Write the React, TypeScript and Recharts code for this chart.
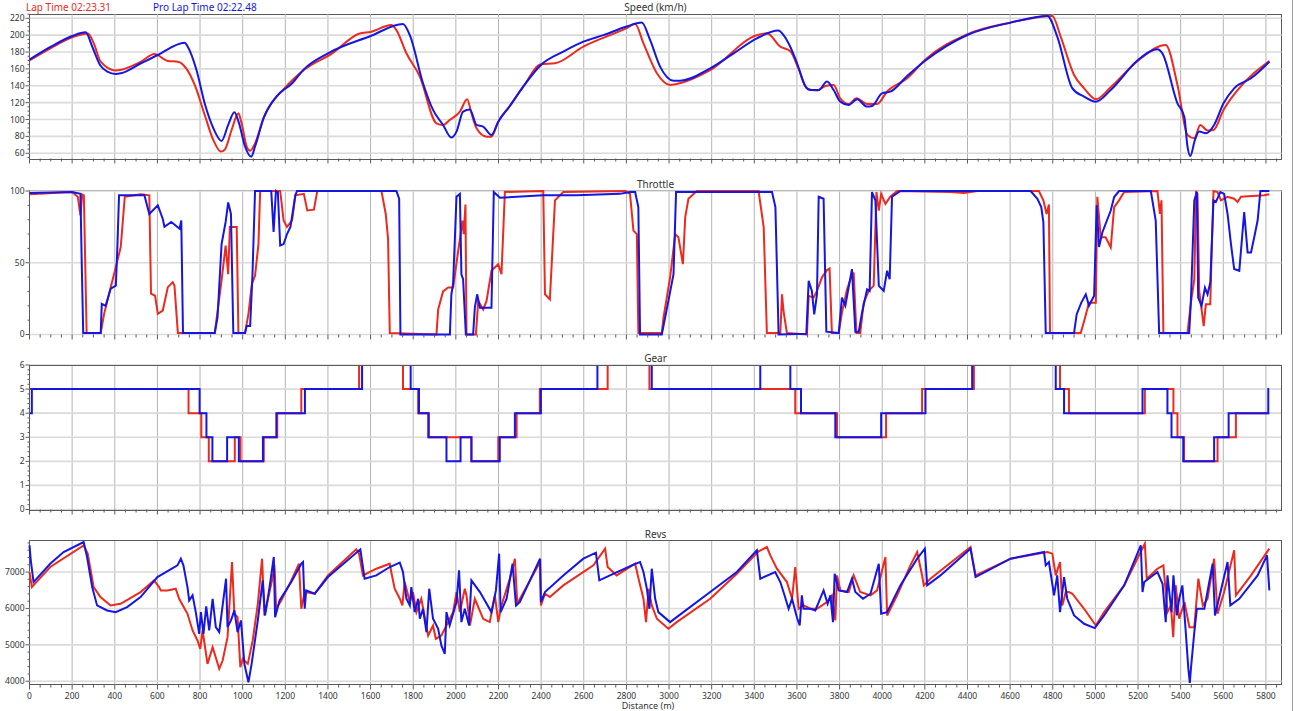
import { CartesianGrid, Line, LineChart, XAxis, YAxis } from "recharts";

type Pair = [number, number];

const LAP_COLOR = "#ec2a1d";
const PRO_COLOR = "#1515e4";
const BORDER = "#5a5a5a";
const TEXT = "#333";

const lapLabel = "Lap Time 02:23.31";
const proLabel = "Pro Lap Time 02:22.48";

const distanceTicks = [
  0, 200, 400, 600, 800, 1000, 1200, 1400, 1600, 1800, 2000, 2200, 2400, 2600, 2800, 3000,
  3200, 3400, 3600, 3800, 4000, 4200, 4400, 4600, 4800, 5000, 5200, 5400, 5600, 5800
];
const speedTicks = [60, 80, 100, 120, 140, 160, 180, 200, 220];
const throttleTicks = [0, 50, 100];
const gearTicks = [0, 1, 2, 3, 4, 5, 6];
const revsTicks = [4000, 5000, 6000, 7000];

const speedLap: Pair[] = [
  [0, 170], [98, 184.4], [200, 197.5], [274, 202], [302, 190], [334, 168.6], [405, 158],
  [523, 168.5], [586, 177.7], [649, 169.4], [696, 168.6], [735, 160.7], [775, 141], [822, 105.4],
  [862, 75.8], [898, 62], [917, 64.7], [948, 87.6], [980, 107.4], [995, 95.5], [1019, 68],
  [1035, 63], [1058, 71.8], [1098, 101.6], [1200, 138], [1287, 158.7], [1420, 178.5],
  [1549, 202], [1600, 203.8], [1697, 212], [1721, 206], [1768, 178.5], [1831, 151], [1909, 95.5],
  [1940, 93.6], [1971, 99.5], [2019, 109.4], [2053, 124], [2073, 107.4], [2097, 89.6],
  [2144, 79.7], [2167, 79.7], [2199, 97.5], [2253, 116], [2316, 139], [2399, 165.5],
  [2465, 166.7], [2598, 186.4], [2798, 208], [2841, 213.3], [2880, 190.3], [2943, 154.8],
  [3005, 141], [3036, 142.2], [3193, 158.7], [3412, 200], [3459, 202.2], [3522, 186.4],
  [3569, 181], [3608, 160], [3647, 137], [3694, 134.3], [3733, 139.8], [3772, 141], [3803, 125.2],
  [3843, 118.5], [3879, 125.2], [3929, 118.5], [3976, 118.5], [4022, 133], [4117, 148.9],
  [4200, 170.6], [4399, 201], [4602, 214.9], [4798, 222.8], [4837, 198.3], [4900, 152.8],
  [4947, 137], [5002, 124], [5072, 138.2], [5200, 169.8], [5330, 188.4], [5385, 141],
  [5432, 81.7], [5464, 77.8], [5492, 93.6], [5526, 86.9], [5554, 87.6], [5601, 111.4],
  [5667, 135], [5816, 169.4]
];

const speedPro: Pair[] = [
  [0, 171], [98, 186], [200, 199], [263, 203.4], [295, 186], [331, 164.7], [365, 156.8],
  [405, 154], [428, 154.8], [523, 166.7], [602, 176.5], [728, 191], [743, 186], [783, 159],
  [822, 119], [862, 90], [901, 74.6], [932, 93.6], [961, 108.6], [983, 95.5], [1011, 68],
  [1040, 56], [1058, 68], [1098, 101.6], [1161, 128], [1232, 143], [1287, 159.5], [1400, 178.5],
  [1600, 199], [1752, 213.3], [1784, 200], [1846, 143], [1893, 111.4], [1940, 93.6],
  [1979, 78.6], [2003, 85.7], [2034, 109.4], [2066, 112], [2097, 93.6], [2128, 91.6],
  [2167, 81.7], [2199, 97.5], [2253, 116], [2316, 139], [2399, 164.7], [2504, 180.5],
  [2598, 192.3], [2692, 200], [2798, 210], [2872, 214.9], [2911, 194.3], [2958, 162.7],
  [3021, 146], [3052, 146], [3193, 160.7], [3303, 178.5], [3412, 196.3], [3513, 205.4],
  [3537, 200], [3569, 186], [3600, 167], [3639, 139.8], [3663, 135], [3702, 135], [3741, 145],
  [3772, 135], [3803, 121.2], [3843, 117.3], [3882, 124], [3929, 115.3], [3952, 116],
  [3999, 131], [4038, 133], [4117, 151.6], [4200, 169.4], [4399, 200.2], [4602, 214.9],
  [4775, 222.8], [4821, 198.3], [4892, 137], [4947, 127.2], [5002, 121.2], [5072, 135],
  [5200, 170.6], [5291, 183.2], [5314, 178.5], [5385, 119.2], [5417, 103.4], [5432, 68],
  [5445, 56.8], [5467, 75.8], [5487, 85.7], [5518, 83.7], [5557, 93.6], [5601, 119.2],
  [5651, 137], [5730, 148.9], [5816, 168.6]
];

const throttleLap: Pair[] = [
  [0, 97.7], [200, 99.3], [227, 95.8], [239, 83], [247, 97.7], [255, 97], [268, 1], [334, 1],
  [350, 14.4], [381, 33], [405, 47], [428, 61], [447, 96], [523, 97.7], [562, 97], [570, 28.4],
  [589, 27], [602, 14.4], [625, 16.7], [649, 33], [672, 36.5], [680, 34], [696, 1], [869, 1],
  [901, 37.7], [920, 62], [932, 42], [940, 75], [972, 75], [980, 1], [1011, 1], [1027, 14.4],
  [1043, 35], [1058, 41], [1074, 63], [1082, 100], [1176, 100], [1192, 79.5], [1208, 75],
  [1232, 79.5], [1247, 97], [1287, 98], [1303, 86.5], [1334, 87], [1350, 100], [1651, 100],
  [1671, 84], [1682, 66.6], [1690, 1], [1909, 0], [1917, 17.5], [1940, 30], [1964, 32.7],
  [1987, 32.7], [2031, 79.4], [2037, 70], [2045, 90.6], [2050, 0], [2094, 0], [2105, 23.4],
  [2128, 17.5], [2144, 23.4], [2167, 44.4], [2199, 49], [2214, 42], [2230, 99.3], [2410, 100],
  [2418, 28], [2441, 24.5], [2465, 93.5], [2504, 99.3], [2794, 100], [2817, 98], [2833, 72.4],
  [2849, 70], [2856, 1], [2966, 1], [2974, 11.7], [3005, 39.7], [3029, 70], [3044, 67.8],
  [3065, 49], [3076, 81.8], [3091, 94.6], [3130, 100], [3420, 100], [3444, 74.8], [3459, 1],
  [3522, 1], [3530, 28], [3537, 16.4], [3553, 1], [3647, 0], [3655, 26.9], [3678, 25.7],
  [3694, 30.4], [3717, 39.7], [3741, 44.9], [3753, 46], [3764, 1], [3796, 1], [3811, 15.2],
  [3835, 31.5], [3851, 38.5], [3866, 43.2], [3879, 1], [3897, 1], [3913, 22.2], [3937, 30.4],
  [3960, 34], [3973, 99.3], [3984, 86.4], [3995, 98], [4015, 91], [4038, 96], [4070, 100],
  [4320, 99.3], [4383, 98.6], [4446, 100], [4735, 100], [4756, 93.5], [4771, 84], [4782, 90.6],
  [4787, 1], [4931, 1], [4947, 9.3], [4970, 22.2], [5002, 22.2], [5009, 96], [5025, 67.8],
  [5048, 67.8], [5072, 60.7], [5088, 88.8], [5111, 93.5], [5135, 99.3], [5291, 100],
  [5303, 84], [5310, 93.5], [5319, 1], [5432, 1], [5448, 22.2], [5464, 38.5], [5472, 100],
  [5479, 98], [5487, 30.4], [5508, 5.8], [5518, 21], [5539, 21], [5545, 56], [5554, 100],
  [5573, 99.3], [5589, 93.5], [5620, 96], [5651, 94.6], [5667, 92.3], [5683, 96], [5792, 97],
  [5816, 97.7]
];

const throttlePro: Pair[] = [
  [0, 98.6], [200, 99.3], [239, 98], [245, 50], [252, 1], [334, 1], [339, 21.4], [357, 20],
  [381, 32], [405, 34], [412, 60], [420, 97], [539, 97], [562, 84], [602, 90], [625, 80.7],
  [633, 75], [665, 78.4], [704, 73.7], [712, 79.5], [720, 1], [869, 1], [882, 12], [901, 63],
  [920, 78.4], [932, 92], [945, 84], [956, 1], [1011, 1], [1019, 6], [1035, 6], [1046, 42],
  [1058, 100], [1134, 100], [1145, 71.4], [1156, 100], [1165, 99], [1176, 62], [1192, 63],
  [1208, 70], [1224, 75], [1247, 97], [1255, 100], [1721, 100], [1734, 94.6], [1740, 0],
  [1972, 0], [1979, 28], [1987, 35], [2003, 96], [2019, 98], [2026, 42], [2034, 38.5], [2047, 0],
  [2081, 0], [2089, 18.7], [2100, 28], [2113, 18.7], [2167, 18.7], [2178, 99.3], [2207, 95.3],
  [2410, 97], [2567, 97], [2770, 98], [2817, 99.3], [2841, 99.3], [2856, 88.8], [2864, 0],
  [2966, 0], [2997, 23.4], [3021, 42], [3033, 99.3], [3483, 99.3], [3499, 88.8], [3514, 0],
  [3644, 0.5], [3655, 37.4], [3670, 30.4], [3681, 14], [3694, 28], [3702, 96], [3725, 94.6],
  [3738, 2], [3796, 1], [3811, 25.7], [3827, 20], [3858, 45.6], [3874, 2], [3890, 2], [3905, 15],
  [3929, 31.5], [3941, 30.4], [3952, 99.3], [3968, 93.5], [3984, 34], [4007, 30.4], [4023, 44.4],
  [4035, 38.5], [4046, 96], [4085, 100], [4696, 100], [4728, 94.6], [4746, 88.8], [4756, 78.3],
  [4767, 1], [4900, 1], [4912, 14], [4934, 22.2], [4955, 28], [4970, 20], [4994, 27], [5006, 90],
  [5017, 61], [5033, 71.3], [5072, 86.4], [5088, 95.8], [5111, 100], [5260, 100], [5283, 79.4],
  [5299, 1], [5440, 1], [5448, 23.4], [5464, 93.5], [5476, 99.3], [5482, 25.7], [5498, 20],
  [5514, 32.7], [5526, 28], [5539, 36.2], [5554, 93.5], [5565, 92.3], [5586, 99.3], [5604, 98],
  [5620, 84], [5636, 63], [5651, 45.6], [5675, 44.4], [5698, 85.3], [5714, 57.2], [5730, 57.2],
  [5745, 67.8], [5761, 79.4], [5774, 100], [5816, 100]
];

// gear change points (held until the next point)
const gearLap: Pair[] = [
  [0, 5], [746, 4], [806, 3], [841, 2], [963, 3], [990, 2], [1099, 3], [1162, 4], [1275, 5],
  [1546, 6], [1752, 5], [1823, 4], [1870, 3], [2073, 2], [2199, 3], [2285, 4], [2394, 5],
  [2712, 6], [2908, 5], [3592, 4], [3788, 3], [4018, 4], [4187, 5], [4430, 6], [4834, 5],
  [4876, 4], [5232, 5], [5366, 4], [5385, 3], [5416, 2], [5573, 3], [5659, 4], [5815, 4]
];

const gearPro: Pair[] = [
  [0, 4], [11, 5], [798, 4], [830, 3], [858, 2], [927, 3], [982, 2], [1095, 3], [1158, 4],
  [1292, 5], [1560, 6], [1788, 5], [1827, 4], [1873, 3], [1956, 2], [2022, 3], [2073, 2],
  [2206, 3], [2277, 4], [2399, 5], [2664, 6], [2919, 5], [3428, 6], [3569, 5], [3619, 4],
  [3780, 3], [3995, 4], [4203, 5], [4422, 6], [4814, 5], [4853, 4], [5221, 5], [5338, 4],
  [5357, 3], [5412, 2], [5557, 3], [5625, 4], [5811, 5], [5815, 5]
];

const revsLap: Pair[] = [
  [0, 7000], [11, 6587], [97, 7138], [254, 7734], [273, 7505], [301, 6587], [333, 6312],
  [380, 6083], [427, 6128], [521, 6450], [584, 6771], [608, 6587], [616, 6495], [647, 6495],
  [686, 6541], [702, 6266], [741, 5853], [765, 5394], [788, 5119], [801, 4890], [812, 5394],
  [835, 4477], [859, 4936], [890, 4339], [906, 4569], [929, 5211], [950, 7275], [961, 5853],
  [976, 5761], [989, 4385], [1000, 4615], [1024, 4477], [1047, 5119], [1071, 6128], [1091, 7367],
  [1102, 5807], [1141, 6862], [1149, 7183], [1157, 5991], [1181, 6220], [1228, 6771],
  [1264, 7229], [1275, 5991], [1291, 6450], [1338, 6404], [1400, 6908], [1533, 7624],
  [1546, 7505], [1564, 6908], [1627, 7092], [1690, 7229], [1697, 7000], [1713, 6541],
  [1737, 6266], [1749, 6083], [1760, 6725], [1784, 6174], [1799, 6450], [1815, 5899],
  [1838, 6266], [1870, 5257], [1893, 5532], [1906, 5165], [1932, 5257], [1956, 5532],
  [1987, 5899], [2003, 6450], [2019, 5899], [2042, 6541], [2050, 6358], [2066, 5532],
  [2089, 6266], [2128, 5716], [2159, 5624], [2183, 6358], [2199, 5624], [2214, 6083],
  [2253, 6817], [2277, 7367], [2288, 6128], [2395, 7275], [2399, 6083], [2418, 6404],
  [2441, 6312], [2504, 6633], [2645, 7183], [2700, 7642], [2712, 7138], [2754, 6908],
  [2841, 7229], [2857, 6817], [2880, 6266], [2892, 5624], [2904, 6541], [2919, 6083],
  [2943, 5716], [2997, 5440], [3036, 5624], [3193, 6266], [3318, 6954], [3420, 7569],
  [3459, 7688], [3475, 7459], [3506, 7092], [3553, 6725], [3577, 6266], [3592, 7138],
  [3608, 5991], [3631, 6083], [3663, 5991], [3694, 5991], [3741, 6174], [3764, 6358],
  [3780, 5670], [3788, 6908], [3804, 6495], [3843, 6450], [3866, 6908], [3897, 6450],
  [3945, 6358], [3976, 6495], [4015, 7413], [4023, 5807], [4070, 6358], [4132, 7183],
  [4164, 7550], [4187, 6908], [4195, 6633], [4226, 6817], [4414, 7688], [4438, 6908],
  [4602, 7367], [4775, 7550], [4798, 7505], [4814, 6908], [4834, 7275], [4845, 6083],
  [4861, 6450], [4876, 6450], [4892, 6404], [4947, 5991], [5002, 5532], [5041, 5899],
  [5135, 6633], [5232, 7780], [5241, 6817], [5291, 7092], [5319, 7183], [5338, 5899],
  [5354, 6083], [5365, 5211], [5377, 6633], [5393, 5716], [5418, 6174], [5441, 5486],
  [5464, 5486], [5483, 6817], [5504, 6083], [5526, 6266], [5557, 7367], [5573, 5853],
  [5604, 6450], [5651, 7596], [5659, 6358], [5730, 6908], [5816, 7642]
];

const revsPro: Pair[] = [
  [0, 7734], [6, 7321], [19, 6725], [97, 7229], [160, 7550], [254, 7826], [270, 7413],
  [294, 6587], [317, 6083], [364, 5945], [404, 5899], [458, 6037], [521, 6312], [600, 6862],
  [694, 7183], [710, 7367], [722, 7183], [741, 6587], [749, 6220], [765, 6358], [780, 5899],
  [796, 5303], [804, 5899], [816, 5303], [829, 6055], [843, 5394], [859, 6266], [874, 5486],
  [890, 5349], [906, 6083], [922, 6817], [929, 5486], [945, 5670], [961, 5945], [976, 5349],
  [992, 5670], [1008, 4477], [1027, 3972], [1042, 4477], [1071, 5670], [1094, 6771],
  [1105, 5807], [1126, 6587], [1146, 7413], [1152, 5761], [1173, 6220], [1228, 6725],
  [1275, 7229], [1283, 7275], [1291, 5991], [1298, 6495], [1338, 6404], [1400, 6862],
  [1552, 7624], [1572, 6817], [1627, 6908], [1690, 7138], [1737, 7257], [1752, 7000],
  [1768, 6266], [1784, 6083], [1791, 6587], [1807, 5899], [1823, 6266], [1831, 5716],
  [1846, 5991], [1862, 5349], [1875, 6541], [1893, 5716], [1917, 5440], [1932, 4982],
  [1948, 4752], [1956, 5899], [1971, 5532], [2003, 6174], [2015, 7046], [2026, 5624],
  [2042, 5991], [2062, 5532], [2073, 6771], [2113, 6450], [2167, 5899], [2188, 6495],
  [2203, 7505], [2210, 5899], [2238, 6266], [2266, 7229], [2282, 6083], [2300, 6174],
  [2395, 7367], [2399, 6174], [2418, 6450], [2504, 6908], [2598, 7367], [2657, 7532],
  [2673, 6771], [2723, 6908], [2833, 7202], [2864, 7275], [2880, 7000], [2896, 6541],
  [2908, 5991], [2919, 7092], [2935, 6266], [2950, 5899], [3005, 5624], [3036, 5761],
  [3193, 6450], [3318, 7000], [3412, 7596], [3428, 6817], [3498, 7000], [3522, 6725],
  [3537, 6450], [3561, 5991], [3577, 6266], [3600, 5750], [3613, 5532], [3623, 6358],
  [3631, 5991], [3663, 5991], [3686, 5945], [3725, 6495], [3744, 6128], [3757, 6358],
  [3769, 5624], [3777, 6954], [3796, 6495], [3835, 6450], [3858, 6817], [3874, 6450],
  [3910, 6266], [3945, 6404], [3984, 7229], [3995, 5853], [4023, 5899], [4085, 6633],
  [4164, 7367], [4200, 7642], [4211, 6633], [4273, 6908], [4414, 7642], [4438, 6862],
  [4602, 7367], [4759, 7550], [4767, 7183], [4782, 7275], [4806, 6358], [4821, 6908],
  [4834, 5899], [4853, 6862], [4868, 6266], [4900, 5807], [4947, 5578], [4997, 5459],
  [5041, 5807], [5135, 6633], [5213, 7734], [5221, 6450], [5229, 6725], [5291, 7000],
  [5315, 6679], [5330, 5624], [5338, 6908], [5357, 5899], [5366, 6908], [5382, 5807],
  [5393, 6266], [5408, 6633], [5424, 5349], [5436, 4339], [5443, 3954], [5448, 4339],
  [5464, 5349], [5476, 5991], [5511, 5991], [5550, 7229], [5561, 5807], [5620, 7275],
  [5633, 6083], [5675, 6266], [5761, 6908], [5805, 7459], [5816, 6495]
];

const W = 1295;
const Y_AXIS_W = 29.5;
const RIGHT_GAP = 13.5;
const PLOT_W = W - Y_AXIS_W - RIGHT_GAP;
const X_DOMAIN: [number, number] = [0, 5873];
const TOP_PAD = 8;
const FONT = "'Noto Sans', 'Open Sans', sans-serif";

const steps = (from: number, to: number, step: number) => {
  const out: number[] = [];
  for (let v = from; v <= to + 1e-9; v += step) out.push(Math.round(v * 100) / 100);
  return out;
};

const xMinorTicks = steps(0, 5850, 50);

const toPoints = (pairs: Pair[]) => pairs.map(([d, v]) => ({ d, v }));

function XTick(props: any) {
  const { x, y, payload, showLabel } = props;
  const major = distanceTicks.includes(payload.value);
  return (
    <g>
      <line x1={x} x2={x} y1={y} y2={y + (major ? 5 : 3)} stroke={BORDER} />
      {showLabel && major && (
        <text x={x} y={y + 14.5} textAnchor="middle" fontSize={8.5} fill={TEXT} fontFamily={FONT}>
          {payload.value}
        </text>
      )}
    </g>
  );
}

function YTick(props: any) {
  const { x, y, payload, majors } = props;
  const major = majors.includes(payload.value);
  return (
    <g>
      <line x1={x - (major ? 4 : 2)} x2={x} y1={y} y2={y} stroke={BORDER} />
      {major && (
        <text x={x - 5} y={y} dy="0.35em" textAnchor="end" fontSize={8.5} fill={TEXT} fontFamily={FONT}>
          {payload.value}
        </text>
      )}
    </g>
  );
}

interface PanelProps {
  title: string;
  top: number;
  plotHeight: number;
  domain: [number, number];
  majors: number[];
  minors: number[];
  lap: Pair[];
  pro: Pair[];
  curve: "monotone" | "linear" | "stepAfter";
  showLabels?: boolean;
  clipTop?: boolean;
}

function Panel({
  title, top, plotHeight, domain, majors, minors, lap, pro, curve,
  showLabels = false, clipTop = false
}: PanelProps) {
  const axisH = showLabels ? 24 : 10;
  // plot frame; drawn under the lines except where values sit on the edge (gear)
  const frame = (
    <div
      style={{
        position: "absolute",
        left: Math.floor(Y_AXIS_W),
        top: Math.floor(top),
        width: Math.round(PLOT_W) + 1,
        height: Math.round(plotHeight) + 1,
        boxSizing: "border-box",
        border: `1px solid ${BORDER}`
      }}
    />
  );
  return (
    <>
      <div
        style={{
          position: "absolute",
          left: Y_AXIS_W,
          width: PLOT_W,
          top: top - 14,
          lineHeight: "14px",
          fontSize: 10,
          textAlign: "center",
          color: TEXT
        }}
      >
        {title}
      </div>
      {!clipTop && frame}
      <div style={{ position: "absolute", left: 0, top: top - TOP_PAD }}>
        <LineChart
          width={W}
          height={TOP_PAD + plotHeight + axisH}
          margin={{ top: TOP_PAD, right: RIGHT_GAP, bottom: 0, left: 0 }}
        >
          <CartesianGrid
            horizontal={false}
            verticalValues={distanceTicks.slice(1)}
            stroke="#b4b4b4"
            strokeWidth={1}
          />
          <CartesianGrid
            vertical={false}
            horizontalValues={majors}
            stroke="#dadada"
            strokeWidth={1.6}
          />
          <XAxis
            type="number"
            dataKey="d"
            domain={X_DOMAIN}
            ticks={xMinorTicks}
            interval={0}
            tickSize={0}
            tickMargin={0}
            tickLine={false}
            height={axisH}
            axisLine={false}
            tick={(p: any) => <XTick {...p} showLabel={showLabels} />}
          />
          <YAxis
            type="number"
            domain={domain}
            allowDataOverflow={clipTop}
            ticks={minors}
            interval={0}
            width={Y_AXIS_W}
            tickSize={0}
            tickMargin={0}
            tickLine={false}
            axisLine={false}
            tick={(p: any) => <YTick {...p} majors={majors} />}
          />
          <Line
            data={toPoints(lap)}
            dataKey="v"
            type={curve}
            stroke={LAP_COLOR}
            strokeWidth={2}
            dot={false}
            activeDot={false}
            isAnimationActive={false}
          />
          <Line
            data={toPoints(pro)}
            dataKey="v"
            type={curve}
            stroke={PRO_COLOR}
            strokeWidth={2}
            dot={false}
            activeDot={false}
            isAnimationActive={false}
          />
        </LineChart>
      </div>
      {clipTop && frame}
    </>
  );
}

export default function App() {
  return (
    <div
      style={{
        position: "absolute",
        left: 0,
        top: 0,
        width: W,
        height: 711,
        overflow: "hidden",
        background: "#fff",
        fontFamily: FONT
      }}
    >
      <div style={{ position: "absolute", left: 26, top: 0, fontSize: 10, lineHeight: "14px", color: LAP_COLOR }}>
        {lapLabel}
      </div>
      <div style={{ position: "absolute", left: 153, top: 0, fontSize: 10, lineHeight: "14px", color: PRO_COLOR }}>
        {proLabel}
      </div>

      <Panel
        title="Speed (km/h)"
        top={14}
        plotHeight={144.5}
        domain={[53.8, 225.1]}
        majors={speedTicks}
        minors={steps(55, 225, 5)}
        lap={speedLap}
        pro={speedPro}
        curve="monotone"
      />
      <Panel
        title="Throttle"
        top={190.5}
        plotHeight={143.5}
        domain={[0, 100]}
        majors={throttleTicks}
        minors={steps(0, 100, 10)}
        lap={throttleLap}
        pro={throttlePro}
        curve="linear"
      />
      <Panel
        title="Gear"
        top={365}
        plotHeight={144.5}
        domain={[0, 6]}
        majors={gearTicks}
        minors={steps(0, 6, 0.2)}
        lap={gearLap}
        pro={gearPro}
        curve="stepAfter"
        clipTop
      />
      <Panel
        title="Revs"
        top={540.5}
        plotHeight={143.5}
        domain={[3910, 7853]}
        majors={revsTicks}
        minors={steps(4000, 7800, 200)}
        lap={revsLap}
        pro={revsPro}
        curve="linear"
        showLabels
      />

      <div
        style={{
          position: "absolute",
          left: 548,
          width: 200,
          top: 701,
          fontSize: 9,
          lineHeight: "10px",
          textAlign: "center",
          color: TEXT
        }}
      >
        Distance (m)
      </div>
      <div style={{ position: "absolute", left: 1292, top: 0, width: 1, height: 711, background: "#9c9c9c" }} />
    </div>
  );
}
